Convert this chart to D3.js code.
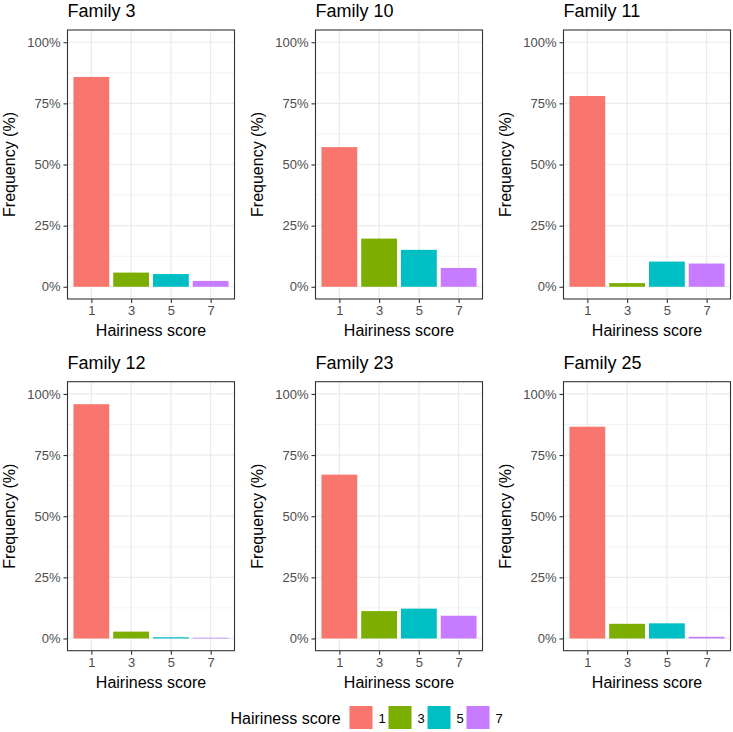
<!DOCTYPE html>
<html>
<head>
<meta charset="utf-8">
<script src="https://cdn.jsdelivr.net/npm/d3@7"></script>
<style>
  body { margin: 0; background: #fff; }
  svg { display: block; font-family: "Liberation Sans", Arial, sans-serif; }
</style>
</head>
<body>
<svg id="chart" width="733" height="732"></svg>
<script>
// 数据
const families = ["Family 3", "Family 10", "Family 11", "Family 12", "Family 23", "Family 25"];
const scores = ["1", "3", "5", "7"];
const freqF3  = [85.8, 5.8, 5.2, 2.4];
const freqF10 = [57.1, 19.7, 15.1, 7.7];
const freqF11 = [78.0, 1.5, 10.3, 9.5];
const freqF12 = [95.8, 2.8, 0.5, 0.3];
const freqF23 = [67.0, 11.2, 12.2, 9.3];
const freqF25 = [86.6, 6.0, 6.2, 0.7];
const freqs = [freqF3, freqF10, freqF11, freqF12, freqF23, freqF25];
const colors = ["#F8766D", "#7CAE00", "#00BFC4", "#C77CFF"];
const yTicks = [0, 25, 50, 75, 100];

const FONT = "'Liberation Sans', Arial, sans-serif";
const svg = d3.select("#chart");

// 面板布局
const colLeft = [67.5, 315.5, 563.5];
const rowTop = [30, 381.7];
const pw = 167, ph = 269;

const color = d3.scaleOrdinal().domain(scores).range(colors);

families.forEach((fam, i) => {
  const px = colLeft[i % 3];
  const py = rowTop[Math.floor(i / 3)];
  const g = svg.append("g").attr("transform", `translate(${px},${py})`);

  // 离散x轴：扩展0.6个单位
  const x = d3.scaleLinear().domain([0.4, 4.6]).range([0, pw]);
  const y = d3.scaleLinear().domain([-5, 105]).range([ph, 0]);

  // 网格
  const minor = [12.5, 37.5, 62.5, 87.5];
  g.selectAll("line.minor").data(minor).enter().append("line")
    .attr("x1", 0).attr("x2", pw)
    .attr("y1", d => y(d)).attr("y2", d => y(d))
    .attr("stroke", "#EBEBEB").attr("stroke-width", 0.6);
  g.selectAll("line.majy").data(yTicks).enter().append("line")
    .attr("x1", 0).attr("x2", pw)
    .attr("y1", d => y(d)).attr("y2", d => y(d))
    .attr("stroke", "#EBEBEB").attr("stroke-width", 1.2);
  g.selectAll("line.majx").data(scores).enter().append("line")
    .attr("x1", (d, k) => x(k + 1)).attr("x2", (d, k) => x(k + 1))
    .attr("y1", 0).attr("y2", ph)
    .attr("stroke", "#EBEBEB").attr("stroke-width", 1.2);

  // 柱子
  g.selectAll("rect.bar").data(freqs[i]).enter().append("rect")
    .attr("x", (d, k) => x(k + 1 - 0.45))
    .attr("width", x(1.45) - x(0.55))
    .attr("y", d => y(d))
    .attr("height", d => y(0) - y(d))
    .attr("fill", (d, k) => color(scores[k]));

  // 边框
  g.append("rect").attr("width", pw).attr("height", ph)
    .attr("fill", "none").attr("stroke", "#333333").attr("stroke-width", 1.1);

  // 坐标轴
  const yAxis = d3.axisLeft(y).tickValues(yTicks).tickFormat(d => d + "%")
    .tickSize(4).tickPadding(3);
  const ya = g.append("g").call(yAxis);
  const xAxis = d3.axisBottom(x).tickValues([1, 2, 3, 4]).tickFormat((d) => scores[d - 1])
    .tickSize(4).tickPadding(3);
  const xa = g.append("g").attr("transform", `translate(0,${ph})`).call(xAxis);
  [ya, xa].forEach(a => {
    a.attr("font-family", FONT).attr("font-size", 13);
    a.select(".domain").remove();
    a.selectAll(".tick line").attr("stroke", "#333333").attr("stroke-width", 1.1);
    a.selectAll(".tick text").attr("fill", "#4D4D4D");
  });

  // 标题
  g.append("text").attr("x", 0).attr("y", -13)
    .style("font-size", "18px").attr("fill", "#000").text(fam);
  g.append("text").attr("x", pw / 2).attr("y", ph + 37)
    .attr("text-anchor", "middle").style("font-size", "16px").text("Hairiness score");
  g.append("text")
    .attr("transform", `translate(-52.5,${ph / 2}) rotate(-90)`)
    .attr("text-anchor", "middle").style("font-size", "16px").text("Frequency (%)");
});

// 图例
const leg = svg.append("g").attr("transform", "translate(0,706)");
leg.append("text").attr("x", 230.5).attr("y", 17.5)
  .style("font-size", "16px").text("Hairiness score");
const keys = leg.selectAll("g.key").data(scores).enter().append("g")
  .attr("transform", (d, k) => `translate(${349.5 + k * 39},0)`);
keys.append("rect").attr("width", 23).attr("height", 23)
  .attr("fill", d => color(d));
keys.append("text").attr("x", 29).attr("y", 16.5)
  .style("font-size", "13px").text(d => d);
</script>
</body>
</html>
